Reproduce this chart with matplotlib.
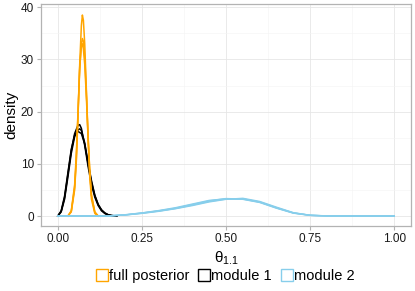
import matplotlib
matplotlib.use("Agg")
import matplotlib.pyplot as plt
from matplotlib.patches import Patch

plt.rcParams['font.family'] = ['Liberation Sans', 'DejaVu Sans']

# full posterior, 3 chains
x_full = [0.030, 0.040, 0.050, 0.055, 0.060, 0.065, 0.070, 0.073, 0.076, 0.080,
          0.085, 0.090, 0.095, 0.100, 0.110, 0.120]
full_chains = [
    [0.0, 0.8, 5.0, 10.5, 19.0, 29.0, 36.5, 38.5, 37.5, 33.0, 24.0, 14.5, 7.5, 3.2, 0.5, 0.0],
    [0.0, 0.9, 5.5, 11.0, 19.5, 28.0, 33.0, 34.0, 33.5, 30.5, 23.5, 15.5, 8.5, 4.0, 0.7, 0.0],
    [0.0, 1.0, 6.0, 12.0, 20.0, 28.5, 32.5, 33.0, 32.0, 29.0, 22.5, 15.0, 8.5, 4.0, 0.8, 0.0],
]

# module 1, 3 chains
x_m1 = [0.000, 0.010, 0.020, 0.030, 0.040, 0.050, 0.060, 0.065, 0.070, 0.080, 0.090,
        0.100, 0.110, 0.120, 0.130, 0.140, 0.150, 0.160, 0.175]
m1_chains = [
    [0.0, 0.9, 3.5, 8.0, 12.5, 15.8, 17.4, 17.5, 16.8, 13.5, 9.5, 6.0, 3.6, 2.0, 1.0, 0.5, 0.2, 0.08, 0.0],
    [0.0, 0.8, 3.2, 7.5, 12.0, 15.2, 16.5, 16.7, 16.4, 14.0, 10.0, 6.5, 3.9, 2.2, 1.1, 0.5, 0.2, 0.08, 0.0],
    [0.0, 1.0, 3.8, 8.3, 12.8, 15.5, 16.2, 16.0, 15.8, 13.8, 10.2, 6.8, 4.0, 2.2, 1.2, 0.6, 0.25, 0.1, 0.0],
]

# module 2, 4 chains
x_m2 = [0.00, 0.10, 0.15, 0.20, 0.25, 0.30, 0.35, 0.40, 0.45, 0.50, 0.55, 0.60,
        0.65, 0.70, 0.75, 0.80, 0.90, 1.00]
m2_chains = [
    [0, 0, 0.02, 0.20, 0.55, 0.95, 1.45, 2.10, 2.80, 3.25, 3.30, 2.70, 1.60, 0.60, 0.15, 0.02, 0, 0],
    [0, 0, 0.03, 0.25, 0.60, 1.05, 1.60, 2.30, 3.00, 3.30, 3.20, 2.60, 1.50, 0.55, 0.12, 0.02, 0, 0],
    [0, 0, 0.02, 0.20, 0.50, 0.90, 1.40, 2.00, 2.70, 3.20, 3.40, 2.80, 1.70, 0.65, 0.15, 0.03, 0, 0],
    [0, 0, 0.03, 0.22, 0.58, 1.00, 1.50, 2.20, 2.90, 3.35, 3.25, 2.65, 1.55, 0.60, 0.13, 0.02, 0, 0],
]

labels = ['full posterior', 'module 1', 'module 2']
colors = ['#FFA500', '#000000', '#87CEEB']

fig = plt.figure(figsize=(4.15, 2.91), dpi=100)
ax = fig.add_axes([0.0988, 0.223, 0.8916, 0.763])

for ch in m1_chains:
    ax.plot(x_m1, ch, color=colors[1], lw=1.1, zorder=3)
for ch in full_chains:
    ax.plot(x_full, ch, color=colors[0], lw=1.1, zorder=3)
for ch in m2_chains:
    ax.plot(x_m2, ch, color=colors[2], lw=1.0, zorder=3)

ax.set_xlim(-0.05, 1.05)
ax.set_ylim(-1.93, 40.6)
ax.set_xticks([0, 0.25, 0.5, 0.75, 1.0])
ax.set_xticklabels(['0.00', '0.25', '0.50', '0.75', '1.00'])
ax.set_yticks([0, 10, 20, 30, 40])
ax.set_xticks([0.125, 0.375, 0.625, 0.875], minor=True)
ax.set_yticks([5, 15, 25, 35], minor=True)
ax.grid(which='major', color='#E6E6E6', lw=0.6)
ax.grid(which='minor', color='#F3F3F3', lw=0.4)
ax.set_axisbelow(True)
for s in ax.spines.values():
    s.set_color('#B3B3B3')
    s.set_linewidth(0.9)
ax.tick_params(which='major', length=3, color='#B3B3B3', labelsize=8.5,
               labelcolor='#1A1A1A', pad=2)
ax.tick_params(which='minor', length=0)

ax.set_ylabel('density', fontsize=11, labelpad=2)
ax.set_xlabel(r'$\mathregular{θ_{1.1}}$', fontsize=11, labelpad=3)

# legend centred on the panel, like ggplot
handles = [Patch(facecolor='none', edgecolor=c, lw=1.0) for c in colors]
fig.legend(handles, labels, loc='center', bbox_to_anchor=(0.543, 0.052), ncol=3,
           frameon=False, fontsize=10.5, handlelength=0.8, handleheight=0.9,
           handletextpad=0.1, columnspacing=0.6, borderpad=0)

fig.savefig('out.png', dpi=100)
